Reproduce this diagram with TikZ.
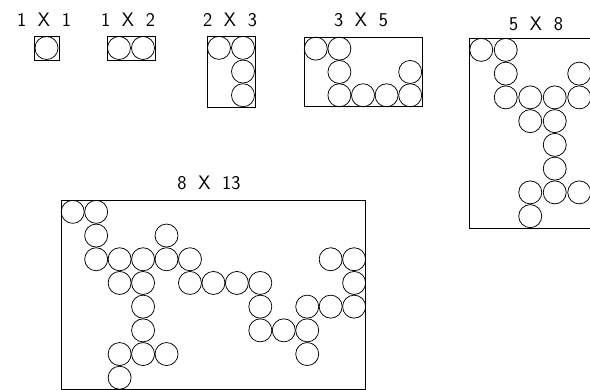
\documentclass[tikz,border=0pt]{standalone}
\usepackage{fontspec}
\tikzset{
  frame/.style={draw=black, line width=1pt},
  ring/.style={draw=black, line width=0.75pt},
  lab/.style={font=\sffamily\fontsize{19.5}{19.5}\selectfont, inner sep=0pt, anchor=center}
}
\newcommand\cellgrid[7]{%
  \begin{scope}[shift={(#1,#2)}, x=#3pt, y=-#4pt]
    \draw[frame] (0,0) rectangle (#5,#6);
    \foreach \c/\r in {#7} \draw[ring] (\c-0.5,\r-0.5) circle[radius=11.5pt];
  \end{scope}}
\newcommand\dimlab[3]{#1\hspace{0.6em}#2\hspace{0.6em}#3}
\begin{document}
\begin{tikzpicture}[x=1pt, y=-1pt]
  \useasboundingbox (0,0) rectangle (590,389);
  \clip (0,0) rectangle (590,389);
  % labels
  \node[lab] (l11) at (44,20) {\dimlab{1}{X}{1}};
  \node[lab] (l12) at (128,20) {\dimlab{1}{X}{2}};
  \node[lab] (l23) at (230,20) {\dimlab{2}{X}{3}};
  \node[lab] (l35) at (361,20) {\dimlab{3}{X}{5}};
  \node[lab] (l58) at (536,24) {\dimlab{5}{X}{8}};
  \node[lab] (l813) at (209,183) {\dimlab{8}{X}{13}};
  % grids
  \cellgrid{34}{36}{25}{24}{1}{1}{1/1}
  \cellgrid{107}{36}{24}{24}{2}{1}{1/1,2/1}
  \cellgrid{207}{36}{24}{23.7}{2}{3}{1/1,2/1,2/2,2/3}
  \cellgrid{304}{37}{23.6}{23.3}{5}{3}{1/1,2/1,2/2,5/2,2/3,3/3,4/3,5/3}
  \cellgrid{469}{38}{24.5}{23.75}{5}{8}{1/1,2/1,2/2,5/2,2/3,3/3,4/3,5/3,3/4,4/4,4/5,4/6,3/7,4/7,5/7,3/8}
  \cellgrid{61}{200}{23.45}{23.7}{13}{8}{1/1,2/1,2/2,5/2,2/3,3/3,4/3,5/3,6/3,12/3,13/3,3/4,4/4,6/4,7/4,8/4,9/4,13/4,4/5,9/5,11/5,12/5,13/5,4/6,9/6,10/6,11/6,3/7,4/7,5/7,11/7,3/8}
\end{tikzpicture}
\end{document}
